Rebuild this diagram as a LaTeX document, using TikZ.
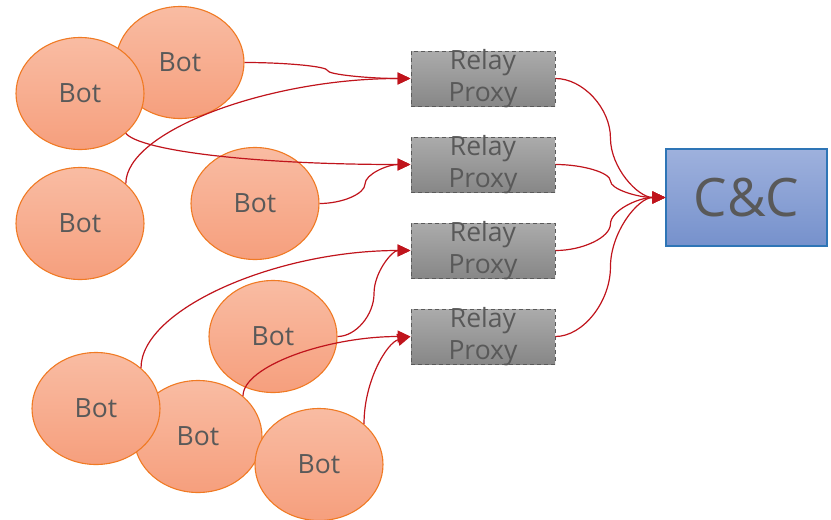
\documentclass[tikz,border=0pt]{standalone}
\usepackage{fontspec}
\setmainfont{Open Sans}
\usetikzlibrary{shapes.geometric,arrows.meta,calc}

\definecolor{txt}{HTML}{595959}
\definecolor{botTop}{HTML}{F9BCA3}
\definecolor{botBottom}{HTML}{F69F7D}
\definecolor{botLine}{HTML}{F07A23}
\definecolor{relayTop}{HTML}{ABABAB}
\definecolor{relayBottom}{HTML}{878787}
\definecolor{relayLine}{HTML}{5A5A5A}
\definecolor{ccTop}{HTML}{9EB1DD}
\definecolor{ccBottom}{HTML}{7691CC}
\definecolor{ccLine}{HTML}{2E75B6}
\definecolor{linkRed}{HTML}{C0141C}

\begin{document}
\begin{tikzpicture}[x=1pt,y=-1pt,
  bot/.style={ellipse, minimum width=128pt, minimum height=112pt, inner sep=0pt,
    draw=botLine, line width=1.1pt, top color=botTop, bottom color=botBottom,
    text=txt, font=\fontsize{26.5}{30}\selectfont},
  relay/.style={rectangle, minimum width=144pt, minimum height=55pt, inner sep=0pt,
    draw=relayLine, dash pattern=on 4pt off 3pt, line width=1pt,
    top color=relayTop, bottom color=relayBottom},
  relaytext/.style={text=txt, align=center, inner sep=0pt,
    font=\fontsize{26.5}{32}\selectfont},
  cnc/.style={rectangle, minimum width=161pt, minimum height=97pt, inner sep=0pt,
    draw=ccLine, line width=1.2pt, top color=ccTop, bottom color=ccBottom,
    text=txt, font=\fontsize{53}{58}\selectfont},
  link/.style={draw=linkRed, line width=1.2pt, -{Triangle[length=13pt,width=12pt]}},
  % single cubic with control points given as fractions of the x and y span
  bz/.style n args={4}{to path={let \p1=(\tikztostart), \p2=(\tikztotarget) in
    .. controls ({(\x1)+#1*((\x2)-(\x1))},{(\y1)+#2*((\y2)-(\y1))})
            and ({(\x1)+#3*((\x2)-(\x1))},{(\y1)+#4*((\y2)-(\y1))}) .. (\tikztotarget)}},
  % leave vertically, arrive horizontally
  cc2/.style={bz={0}{0.5}{0.5}{1}},
  % leave and arrive horizontally, turning at the middle
  cc3/.style={to path={let \p1=(\tikztostart), \p2=(\tikztotarget) in
    .. controls ({(\x1)+0.25*((\x2)-(\x1))},\y1)
            and ({0.5*((\x1)+(\x2))},{(\y1)+0.25*((\y2)-(\y1))})
    .. ({0.5*((\x1)+(\x2))},{0.5*((\y1)+(\y2))})
    .. controls ({0.5*((\x1)+(\x2))},{(\y1)+0.75*((\y2)-(\y1))})
            and ({(\x1)+0.75*((\x2)-(\x1))},\y2) .. (\tikztotarget)}}
]
\useasboundingbox (0,0) rectangle (831,520);

% bots, back to front
\node[bot] (botB) at (180,62.5) {Bot};
\node[bot] (botA) at (80,93.5) {Bot};
\node[bot] (botC) at (80,223.5) {Bot};
\node[bot] (botD) at (255,203.5) {Bot};
\node[bot] (botE) at (273,336.5) {Bot};
\node[bot] (botG) at (198,436.5) {Bot};
\node[bot] (botF) at (96,408.5) {Bot};
\node[bot] (botH) at (319,464.5) {Bot};

% relay proxies
\foreach \i/\y in {1/78.5, 2/164.5, 3/250.5, 4/336.5} {
  \node[relay] (r\i) at (483,\y) {};
  \node[relaytext] (r\i t) at (483,\y) {Relay\\Proxy};
}

% command and control server
\node[cnc] (cc) at (746.5,197.5) {C\&C};

% bots to relays
\draw[link] (botB.east) to[cc3] (r1.west);
\draw[link] (botC.41) to[cc2] (r1.west);
\draw[link] (botA.319) to[bz={0.05}{0.55}{0.44}{1}] (r2.west);
\draw[link] (botD.east) to[cc3] (r2.west);
\draw[link] (botF.42) to[cc2] (r3.west);
\draw[link] (botE.east) to[cc3] (r3.west);
\draw[link] (botG.42) to[cc2] (r4.west);
\draw[link] (botH.42) to[bz={0}{0.5}{0.5}{0.93}] (r4.west);

% relays to C&C
\foreach \i in {1,2,3,4}
  \draw[link] (r\i.east) to[cc3] (cc.west);
\end{tikzpicture}
\end{document}
